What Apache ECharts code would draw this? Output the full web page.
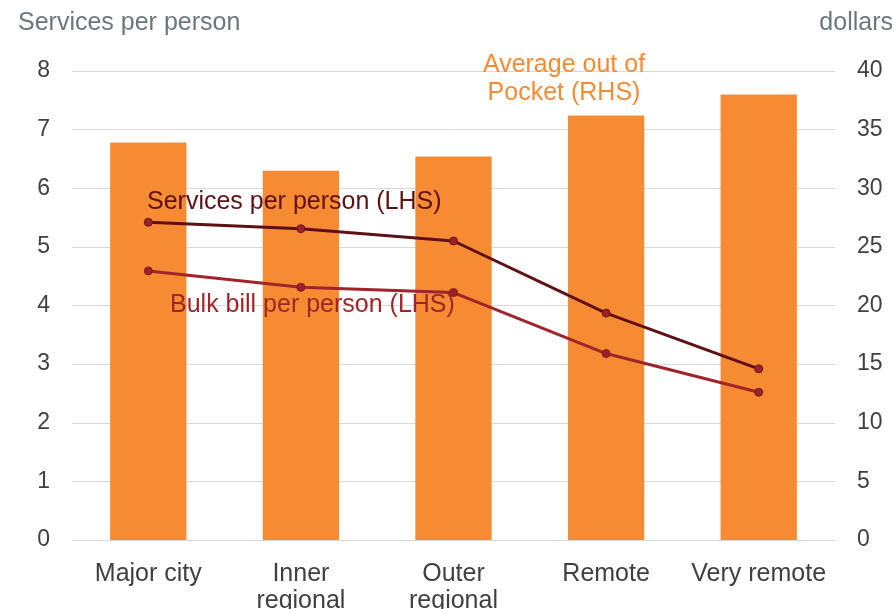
<!DOCTYPE html>
<html>
<head>
<meta charset="utf-8">
<script src="https://cdn.jsdelivr.net/npm/echarts@6/dist/echarts.min.js"></script>
<style>html,body{margin:0;padding:0;background:#fff;}#c{width:894px;height:609px;}</style>
</head>
<body>
<div id="c"></div>
<script>
const categories = ['Major city', 'Inner\nregional', 'Outer\nregional', 'Remote', 'Very remote'];
const outOfPocket = [33.9, 31.5, 32.7, 36.2, 38.0];
const servicesPerPerson = [5.42, 5.31, 5.10, 3.87, 2.92];
const bulkBillPerPerson = [4.59, 4.31, 4.22, 3.18, 2.52];
const leftTicks = [0, 8, 1];
const rightTicks = [0, 40, 5];

const FONT = 'Liberation Sans, Arial, Helvetica, sans-serif';
const chart = echarts.init(document.getElementById('c'));
chart.setOption({
  animation: false,
  textStyle: { fontFamily: FONT },
  grid: { left: 72, right: 59, top: 71, bottom: 69, containLabel: false, outerBoundsMode: 'none' },
  xAxis: {
    type: 'category', data: categories,
    axisLine: { show: false }, axisTick: { show: false },
    axisLabel: { color: '#404040', fontSize: 25, fontFamily: FONT, margin: 21, lineHeight: 27, interval: 0 }
  },
  yAxis: [
    { type: 'value', min: leftTicks[0], max: leftTicks[1], interval: leftTicks[2],
      axisLine: { show: false }, axisTick: { show: false },
      axisLabel: { color: '#404040', fontSize: 23, fontFamily: FONT, margin: 22, padding: [4, 0, 0, 0] },
      splitLine: { lineStyle: { color: '#D9D9D9', width: 1 } } },
    { type: 'value', min: rightTicks[0], max: rightTicks[1], interval: rightTicks[2],
      axisLine: { show: false }, axisTick: { show: false },
      axisLabel: { color: '#404040', fontSize: 23, fontFamily: FONT, margin: 22, padding: [4, 0, 0, 0] },
      splitLine: { show: false } }
  ],
  series: [
    { name: 'Average out of Pocket (RHS)', type: 'bar', yAxisIndex: 1, data: outOfPocket,
      barWidth: '50%', itemStyle: { color: '#F68B33' }, z: 1 },
    { name: 'Services per person (LHS)', type: 'line', yAxisIndex: 0, data: servicesPerPerson,
      symbol: 'circle', symbolSize: 8,
      lineStyle: { color: '#5E1014', width: 3 },
      itemStyle: { color: '#9B2328', borderColor: '#6E1418', borderWidth: 1 }, z: 3 },
    { name: 'Bulk bill per person (LHS)', type: 'line', yAxisIndex: 0, data: bulkBillPerPerson,
      symbol: 'circle', symbolSize: 8,
      lineStyle: { color: '#A0252A', width: 3 },
      itemStyle: { color: '#9B2328', borderColor: '#7E1A1E', borderWidth: 1 }, z: 3 }
  ],
  graphic: [
    { type: 'text', left: 18, top: 11, style: { text: 'Services per person', fill: '#6B7780', font: '25px ' + FONT } },
    { type: 'text', right: 1, top: 11, style: { text: 'dollars', fill: '#6B7780', font: '25px ' + FONT } },
    { type: 'text', x: 147, y: 202, style: { text: 'Services per person (LHS)', fill: '#5E1014', font: '25px ' + FONT, textVerticalAlign: 'middle' }, z: 10 },
    { type: 'text', x: 170, y: 305, style: { text: 'Bulk bill per person (LHS)', fill: '#A0252A', font: '25px ' + FONT, textVerticalAlign: 'middle' }, z: 10 },
    { type: 'text', x: 564, y: 79, style: { text: 'Average out of\nPocket (RHS)', fill: '#F68B33', font: '25px ' + FONT, textAlign: 'center', textVerticalAlign: 'middle', lineHeight: 28 }, z: 10 }
  ]
});
</script>
</body>
</html>
